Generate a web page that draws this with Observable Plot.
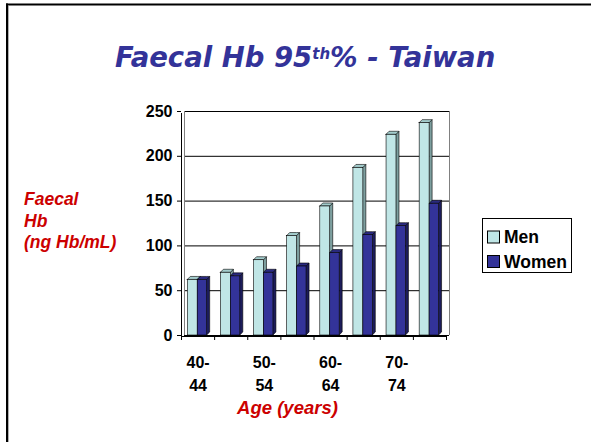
<!DOCTYPE html>
<html><head><meta charset="utf-8">
<script src="https://cdn.jsdelivr.net/npm/d3@7"></script>
<script src="https://cdn.jsdelivr.net/npm/@observablehq/plot@0.6"></script>
<style>
html,body{margin:0;padding:0;background:#fff;}
#wrap{position:relative;width:591px;height:442px;overflow:hidden;background:#fff;}
#wrap > svg{position:absolute;left:0;top:0;}
</style></head><body><div id="wrap"></div>
<script>
// ---- data ----
const groups = ["40-44","45-49","50-54","55-59","60-64","65-69","70-74","75-79"];
const men = [62, 70, 84, 111, 144, 187, 224, 237];
const women = [62, 66, 70, 77, 92, 112, 122, 147];
const seriesNames = ["Men", "Women"];
const yTicks = [0, 50, 100, 150, 200, 250];
const xTickLabels = ["40-\n44", "", "50-\n54", "", "60-\n64", "", "70-\n74", ""];

// ---- styles ----
const colors = {
  Men:   {front: "#c0e6e6", side: "#7d9f9f", top: "#a3cccc"},
  Women: {front: "#333399", side: "#1c1c5a", top: "#2a2a80"}
};
const slot = {Men: [0.19, 0.49], Women: [0.49, 0.775]};
const DX = 3 / 33.125;          // depth in group units (~3px)
const DY = 3 * 250 / 224;       // depth in value units (~3px)

const bars = [];
groups.forEach((g, i) => {
  [["Men", men[i]], ["Women", women[i]]].forEach(([s, v]) => {
    bars.push({id: g + s, s, v, x1: i + slot[s][0], x2: i + slot[s][1]});
  });
});
const sideRows = bars.flatMap(b => [
  {id: b.id, x: b.x2, y1: 0, y2: b.v, c: colors[b.s].side},
  {id: b.id, x: b.x2 + DX, y1: DY, y2: b.v + DY, c: colors[b.s].side}
]);
const topRows = bars.flatMap(b => [
  {id: b.id, x: b.x1, y1: b.v, y2: b.v, c: colors[b.s].top},
  {id: b.id, x: b.x1 + DX, y1: b.v, y2: b.v + DY, c: colors[b.s].top},
  {id: b.id, x: b.x2, y1: b.v, y2: b.v + DY, c: colors[b.s].top},
  {id: b.id, x: b.x2 + DX, y1: b.v + DY, y2: b.v + DY, c: colors[b.s].top}
]);
const labelRows = xTickLabels.map((t, i) => ({x: i + 0.5, t})).filter(d => d.t);

const chart = Plot.plot({
  width: 591, height: 442,
  marginLeft: 181, marginRight: 145, marginTop: 111, marginBottom: 107,
  style: {fontFamily: "Liberation Sans, Arial, sans-serif", fontSize: "16px", fontWeight: "bold", color: "#000", background: "transparent"},
  x: {domain: [0, 8], ticks: d3.range(0, 9), tickSize: 5, tickFormat: () => "", label: null},
  y: {domain: [0, 250], ticks: yTicks, tickSize: 4, tickPadding: 5, label: null},
  color: {type: "identity"},
  marks: [
    Plot.ruleY(yTicks, {x1: 0, x2: 8, dx: 3, stroke: "#000", strokeWidth: 1}),
    Plot.ruleX([0, 8], {y1: 0, y2: 250, dx: 3, stroke: "#808080", strokeWidth: 1}),
    Plot.ruleX([0], {y1: 0, y2: 250, dy: 2, stroke: "#000", strokeWidth: 1}),
    Plot.ruleY([0], {x1: 0, x2: 8, dy: 1, stroke: "#000", strokeWidth: 1}),
    Plot.area(sideRows, {x1: "x", y1: "y1", y2: "y2", z: "id", fill: "c", stroke: "#000", strokeWidth: 0.6, curve: "linear"}),
    Plot.area(topRows, {x1: "x", y1: "y1", y2: "y2", z: "id", fill: "c", stroke: "#000", strokeWidth: 0.6, curve: "linear"}),
    Plot.rect(bars, {x1: "x1", x2: "x2", y1: 0, y2: "v", fill: d => colors[d.s].front, stroke: "#000", strokeWidth: 0.6}),
    Plot.text(labelRows, {x: "x", y: 0, text: "t", lineAnchor: "top", dy: 16, lineHeight: 1.46, fontSize: 16, fontWeight: "bold", fill: "#000"})
  ]
});
const wrap = document.getElementById("wrap");
wrap.appendChild(chart);

// ---- overlay: title, axis titles, legend, frame ----
const NS = "http://www.w3.org/2000/svg";
const ov = document.createElementNS(NS, "svg");
ov.setAttribute("width", 591); ov.setAttribute("height", 442);
ov.innerHTML = `
  <line x1="6" y1="4.5" x2="591" y2="4.5" stroke="#000" stroke-width="2"/>
  <line x1="7" y1="3.5" x2="7" y2="442" stroke="#000" stroke-width="2"/>
  <line x1="8.5" y1="6" x2="8.5" y2="442" stroke="#b0b0b0" stroke-width="1"/>
  <text x="115" y="67" fill="#333399" font-family="DejaVu Sans" font-weight="bold" font-style="oblique" font-size="27.5">Faecal Hb 95<tspan font-size="15" dy="-8">th</tspan><tspan dy="8">% - Taiwan</tspan></text>
  <g fill="#cc0000" font-family="Liberation Sans, Arial, sans-serif" font-weight="bold" font-style="italic" font-size="17.5">
    <text x="24" y="205">Faecal</text>
    <text x="24" y="227">Hb</text>
    <text x="24" y="248">(ng Hb/mL)</text>
    <text x="287.5" y="414" text-anchor="middle" font-size="18.5">Age (years)</text>
  </g>
  <rect x="482.5" y="218.5" width="89" height="54" fill="#fff" stroke="#000" stroke-width="1"/>
  <rect x="487.5" y="231" width="12" height="12" fill="${colors.Men.front}" stroke="#000" stroke-width="1"/>
  <rect x="487.5" y="255.5" width="12" height="12" fill="${colors.Women.front}" stroke="#000" stroke-width="1"/>
  <g font-family="Liberation Sans, Arial, sans-serif" font-weight="bold" font-size="17.5" fill="#000">
    <text x="504" y="243">${seriesNames[0]}</text>
    <text x="504" y="267.5">${seriesNames[1]}</text>
  </g>`;
wrap.appendChild(ov);
</script>
</body></html>
